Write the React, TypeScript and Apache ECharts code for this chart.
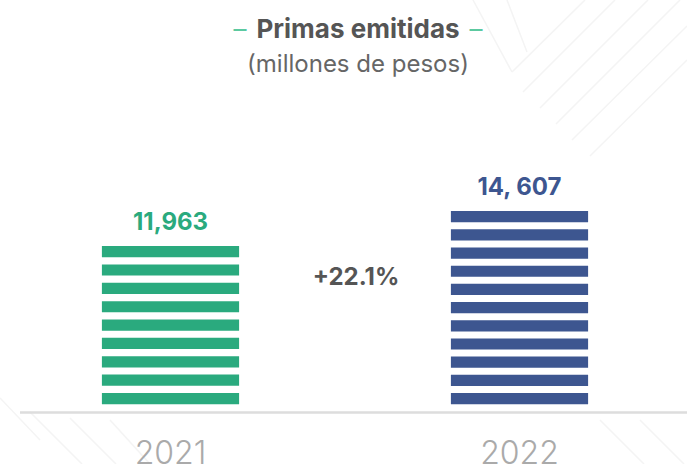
import React, { useEffect, useRef } from "react";
import * as echarts from "echarts";

const categories = ["2021", "2022"];
const values = [11963, 14607];
const valueLabels = ["11,963", "14, 607"];
const barColors = ["#2aaa7e", "#3d5690"];
const growthLabel = "+22.1%";
const titleText = "Primas emitidas";
const subtitleText = "(millones de pesos)";

const FONT = "Inter, 'Open Sans', sans-serif";

const bgLines: number[][] = [
  [473, 0, 512, 72],
  [512, 72, 585, 0],
  [507, 0, 527, 52],
  [523, 92, 615, 0],
  [540, 108, 648, 0],
  [556, 124, 680, 0],
  [572, 140, 687, 26],
  [590, 156, 687, 60],
  [0, 398, 40, 440],
  [30, 412, 82, 464],
  [70, 418, 116, 464],
  [110, 420, 150, 464],
  [600, 420, 644, 464],
  [640, 420, 684, 464],
];

export default function App() {
  const ref = useRef<HTMLDivElement>(null);
  useEffect(() => {
    if (!ref.current) return;
    const chart = echarts.init(ref.current, undefined, { renderer: "svg" });
    chart.setOption({
      animation: false,
      backgroundColor: "#ffffff",
      title: [
        {
          left: 353,
          textAlign: "center",
          top: 10,
          text: `{dl|–}{t|${titleText}}{dr|–}`,
          textStyle: {
            rich: {
              dl: { color: "#5cc9a0", fontSize: 26, fontFamily: FONT, fontWeight: 400, padding: [0, 10, 0, 0] },
              dr: { color: "#5cc9a0", fontSize: 26, fontFamily: FONT, fontWeight: 400, padding: [0, 0, 0, 10] },
              t: { color: "#555555", fontSize: 26, fontFamily: FONT, fontWeight: 700 },
            },
          },
        },
        {
          left: 353,
          textAlign: "center",
          top: 46,
          text: subtitleText,
          textStyle: { color: "#666666", fontSize: 24, fontFamily: FONT, fontWeight: 400 },
        },
      ],
      grid: { left: 170.5, right: 167.5, top: 140, bottom: 52, outerBoundsMode: "none", containLabel: false },
      xAxis: {
        type: "category",
        data: categories,
        boundaryGap: false,
        axisLine: { show: false },
        axisTick: { show: false },
        splitLine: { show: false },
        axisLabel: {
          color: "#aaaaaa",
          fontSize: 32,
          fontFamily: FONT,
          fontWeight: 300,
          margin: 24,
        },
      },
      yAxis: {
        type: "value",
        min: -600,
        max: 20000,
        show: false,
        splitLine: { show: false },
      },
      graphic: [
        ...bgLines.map((l) => ({
          type: "line",
          silent: true,
          z: -10,
          shape: { x1: l[0], y1: l[1], x2: l[2], y2: l[3] },
          style: { stroke: "#f4f4f4", lineWidth: 1.5 },
        })),
        {
          type: "line",
          shape: { x1: 20, y1: 412.5, x2: 687, y2: 412.5 },
          style: { stroke: "#dddddd", lineWidth: 2.5 },
        },
        {
          type: "text",
          x: 356,
          y: 276,
          style: {
            text: growthLabel,
            fill: "#555555",
            fontSize: 24,
            fontWeight: 700,
            fontFamily: FONT,
            align: "center",
            verticalAlign: "middle",
          },
        },
      ],
      series: [
        {
          type: "pictorialBar",
          symbol: "rect",
          symbolRepeat: true,
          symbolSize: [137, 11],
          symbolMargin: 4.2,
          data: values.map((v, i) => ({
            value: v,
            symbolBoundingData: v,
            itemStyle: { color: barColors[i] },
            label: {
              show: true,
              position: "top",
              distance: 13,
              formatter: valueLabels[i],
              color: barColors[i],
              fontSize: 24,
              fontWeight: 700,
              fontFamily: FONT,
            },
          })),
        },
      ],
    });
    return () => chart.dispose();
  }, []);
  return (
    <div
      ref={ref}
      style={{ position: "fixed", left: 0, top: 0, width: 687, height: 464 }}
    />
  );
}
